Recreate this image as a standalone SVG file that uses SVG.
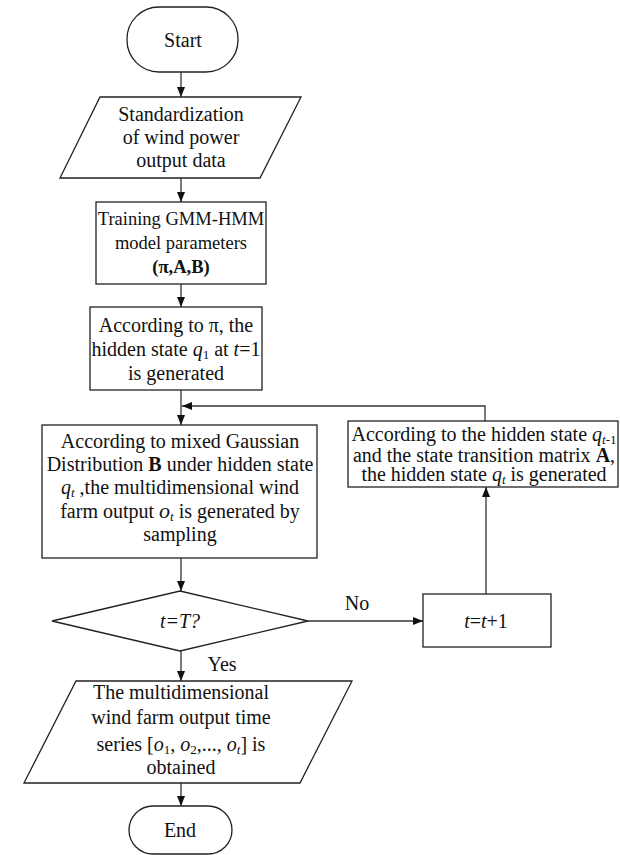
<svg xmlns="http://www.w3.org/2000/svg" width="620" height="855" viewBox="0 0 620 855">
<style>
.n{fill:#fff;stroke:#222;stroke-width:1.3}
.t{font-family:"Liberation Serif","Times New Roman",serif;font-size:20px;fill:#111;text-anchor:middle}
.c{fill:none;stroke:#333;stroke-width:1.3}
.i{font-style:italic}
.b{font-weight:bold}
.s{font-size:13px}
.m{font-style:italic;font-size:22px}
.sm{font-size:18.5px}
</style>
<defs>
<marker id="ah" markerWidth="10" markerHeight="8" refX="10" refY="4" orient="auto" markerUnits="userSpaceOnUse">
<path d="M0,0 L10,4 L0,8 z" fill="#111"/>
</marker>
</defs>
<g id="connectors">
<line class="c" x1="181" y1="72" x2="181" y2="97" marker-end="url(#ah)"/>
<line class="c" x1="181" y1="178" x2="181" y2="202" marker-end="url(#ah)"/>
<line class="c" x1="181" y1="284" x2="181" y2="307" marker-end="url(#ah)"/>
<line class="c" x1="181" y1="390" x2="181" y2="425" marker-end="url(#ah)"/>
<polyline class="c" points="485,421 485,406 182,406" marker-end="url(#ah)"/>
<line class="c" x1="181" y1="558" x2="181" y2="591" marker-end="url(#ah)"/>
<line class="c" x1="308" y1="621" x2="423" y2="621" marker-end="url(#ah)"/>
<line class="c" x1="486" y1="594" x2="486" y2="487" marker-end="url(#ah)"/>
<line class="c" x1="181" y1="651" x2="181" y2="681" marker-end="url(#ah)"/>
<line class="c" x1="181" y1="783" x2="181" y2="806" marker-end="url(#ah)"/>
<text class="t" x="357" y="610">No</text>
<text class="t" x="222" y="671">Yes</text>
</g>
<g id="start">
<rect class="n" x="127" y="7" width="111" height="65" rx="32" ry="32"/>
<text class="t" x="183" y="47">Start</text>
</g>
<g id="standardize">
<polygon class="n" points="100,97 301,97 260,178 60,178"/>
<text class="t" x="181" y="121">Standardization</text>
<text class="t" x="181" y="144">of wind power</text>
<text class="t" x="181" y="167">output data</text>
</g>
<g id="train">
<rect class="n" x="96" y="202" width="170" height="82"/>
<text class="t sm" x="181" y="225">Training GMM-HMM</text>
<text class="t sm" x="181" y="249">model parameters</text>
<text class="t sm b" x="181" y="273">(π,A,B)</text>
</g>
<g id="init">
<rect class="n" x="90" y="307" width="172" height="83"/>
<text class="t" x="176" y="332">According to π, the</text>
<text class="t" x="176" y="356">hidden state <tspan class="i">q</tspan><tspan class="s" dy="3">1</tspan><tspan dy="-3"> at </tspan><tspan class="i">t</tspan>=1</text>
<text class="t" x="176" y="380">is generated</text>
</g>
<g id="sample">
<rect class="n" x="42" y="425" width="275" height="133"/>
<text class="t" x="180" y="448">According to mixed Gaussian</text>
<text class="t" x="180" y="471">Distribution <tspan class="b">B</tspan> under hidden state</text>
<text class="t" x="180" y="494"><tspan class="i">q</tspan><tspan class="s i" dy="3">t</tspan><tspan dy="-3"> ,the multidimensional wind</tspan></text>
<text class="t" x="180" y="518">farm output <tspan class="m">o</tspan><tspan class="s i" dy="3">t</tspan><tspan dy="-3"> is generated by</tspan></text>
<text class="t" x="180" y="541">sampling</text>
</g>
<g id="transition">
<rect class="n" x="348" y="421" width="270" height="66"/>
<text class="t" x="484" y="441">According to the hidden state <tspan class="i">q</tspan><tspan class="s" dy="3"><tspan class="i">t</tspan>-1</tspan></text>
<text class="t" x="484" y="461.5">and the state transition matrix <tspan class="b">A</tspan>,</text>
<text class="t" x="484" y="481">the hidden state <tspan class="i">q</tspan><tspan class="s i" dy="3">t</tspan><tspan dy="-3">  is generated</tspan></text>
</g>
<g id="decision">
<polygon class="n" points="180,591 308,621 180,651 52,621"/>
<text class="t i" x="180" y="628">t=T?</text>
</g>
<g id="increment">
<rect class="n" x="423" y="594" width="128" height="53"/>
<text class="t" x="486" y="628"><tspan class="i">t</tspan>=<tspan class="i">t</tspan>+1</text>
</g>
<g id="output">
<polygon class="n" points="76,681 352,681 300,783 24,783"/>
<text class="t" x="181" y="699">The multidimensional</text>
<text class="t" x="181" y="724">wind farm output time</text>
<text class="t" x="181" y="751">series [<tspan class="i">o</tspan><tspan class="s" dy="3">1</tspan><tspan dy="-3">, </tspan><tspan class="i">o</tspan><tspan class="s" dy="3">2</tspan><tspan dy="-3">,..., </tspan><tspan class="i">o</tspan><tspan class="s i" dy="3">t</tspan><tspan dy="-3">]  is</tspan></text>
<text class="t" x="181" y="774">obtained</text>
</g>
<g id="end">
<rect class="n" x="129" y="806" width="103" height="48" rx="24" ry="24"/>
<text class="t" x="180" y="837">End</text>
</g>
</svg>
